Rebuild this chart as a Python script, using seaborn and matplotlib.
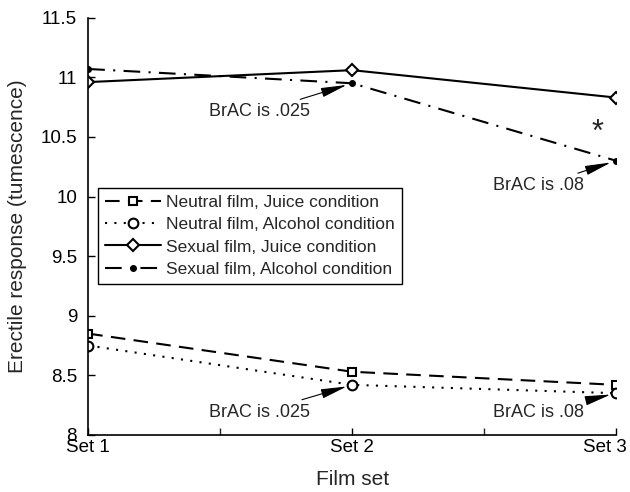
import matplotlib
matplotlib.use("Agg")
import matplotlib.pyplot as plt
import matplotlib.transforms as mtransforms
import seaborn as sns
import pandas as pd

sets = [1, 2, 3]
set_labels = ["Set 1", "Set 2", "Set 3"]
neutral_juice = [8.85, 8.53, 8.42]
neutral_alcohol = [8.75, 8.42, 8.35]
sexual_juice = [10.96, 11.06, 10.83]
sexual_alcohol = [11.07, 10.95, 10.30]

series = {
    "Neutral film, Juice condition": neutral_juice,
    "Neutral film, Alcohol condition": neutral_alcohol,
    "Sexual film, Juice condition": sexual_juice,
    "Sexual film, Alcohol condition": sexual_alcohol,
}
rows = []
for name, vals in series.items():
    for s, v in zip(sets, vals):
        rows.append({"Set": s, "Response": v, "Condition": name})
df = pd.DataFrame(rows)

sns.set_style("ticks")
plt.rcParams["font.family"] = ["Liberation Sans", "DejaVu Sans"]

fig = plt.figure(figsize=(6.3, 4.92), dpi=100)
ax = fig.add_axes([0.14, 0.116, 0.838, 0.848])

styles = {
    "Neutral film, Juice condition": dict(ls=(0, (7, 4)), marker="s", ms=6, mfc="white"),
    "Neutral film, Alcohol condition": dict(ls=(0, (1, 3.5)), marker="o", ms=7, mfc="white"),
    "Sexual film, Juice condition": dict(ls="-", marker="D", ms=6, mfc="white"),
    "Sexual film, Alcohol condition": dict(ls=(0, (8, 4, 1, 4)), marker="o", ms=3.5, mfc="black"),
}
for name in series:
    st = styles[name]
    sns.lineplot(data=df[df["Condition"] == name], x="Set", y="Response", ax=ax,
                 color="black", lw=1.5, linestyle=st["ls"], marker=st["marker"],
                 markersize=st["ms"], markerfacecolor=st["mfc"],
                 markeredgecolor="black", markeredgewidth=1.5, label=name)

ax.set_xlim(1, 3)
ax.set_ylim(8, 11.5)
ax.set_xticks(sets)
ax.set_xticklabels(set_labels)
ax.set_xticks([1.5, 2.5], minor=True)
ax.set_yticks([8, 8.5, 9, 9.5, 10, 10.5, 11, 11.5])
ax.set_yticklabels(["8", "8.5", "9", "9.5", "10", "10.5", "11", "11.5"])
ax.tick_params(direction="in", length=5, labelsize=13.5, width=1, colors="black")
ax.tick_params(which="minor", direction="in", length=5, width=1)
ax.tick_params(axis="y", pad=8)
ax.tick_params(axis="x", pad=3)
# last x label sits shifted left in the reference
last = ax.get_xticklabels()[-1]
last.set_transform(last.get_transform() + mtransforms.ScaledTranslation(-11 / 100, 0, fig.dpi_scale_trans))
ax.set_xlabel("Film set", fontsize=15, labelpad=10)
ax.set_ylabel("Erectile response (tumescence)", fontsize=15, labelpad=10)
sns.despine(ax=ax)
for sp in ["left", "bottom"]:
    ax.spines[sp].set_linewidth(1.2)
    ax.spines[sp].set_color("black")

arrow = dict(arrowstyle="-|>,head_length=1.0,head_width=0.18", color="black", lw=0.8,
             mutation_scale=16, shrinkA=2, shrinkB=4)
ax.annotate("BrAC is .025", xy=(2, sexual_alcohol[1]), xytext=(1.84, 10.71),
            ha="right", va="center", fontsize=13, arrowprops=arrow)
ax.annotate("BrAC is .08", xy=(3, sexual_alcohol[2]), xytext=(2.88, 10.09),
            ha="right", va="center", fontsize=13, arrowprops=arrow)
ax.annotate("BrAC is .025", xy=(2, neutral_alcohol[1]), xytext=(1.84, 8.19),
            ha="right", va="center", fontsize=13, arrowprops=arrow)
ax.annotate("BrAC is .08", xy=(3, neutral_alcohol[2]), xytext=(2.88, 8.19),
            ha="right", va="center", fontsize=13, arrowprops=arrow)
ax.text(2.93, 10.53, "*", ha="center", va="center", fontsize=22)

leg = ax.legend(loc="upper left", bbox_to_anchor=(0.019, 0.593), fontsize=12.5,
                frameon=True, fancybox=False, edgecolor="black", framealpha=1,
                handlelength=3.2, handletextpad=0.3, borderpad=0.4,
                labelspacing=0.42, borderaxespad=0)
leg.get_frame().set_linewidth(1.0)

fig.savefig("out.png", dpi=100)
